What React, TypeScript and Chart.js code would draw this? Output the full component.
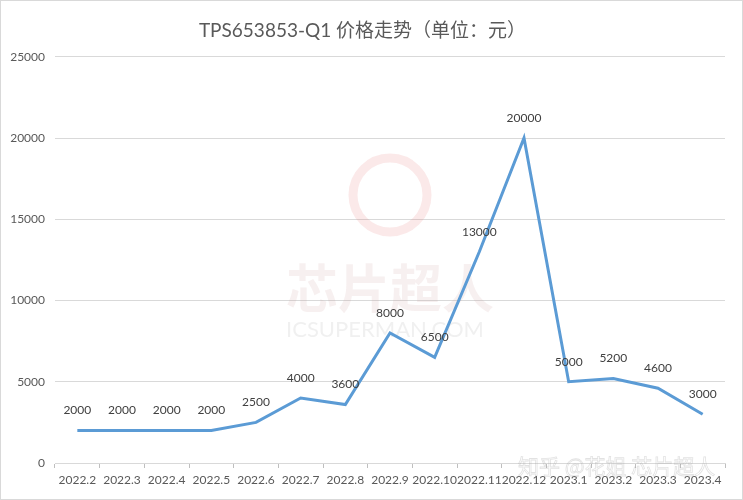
import React, { useEffect, useRef } from "react";
import { Chart, registerables } from "chart.js";

Chart.register(...registerables);

const TITLE = "TPS653853-Q1 价格走势（单位：元）";
const categories = [
  "2022.2", "2022.3", "2022.4", "2022.5", "2022.6", "2022.7", "2022.8", "2022.9",
  "2022.10", "2022.11", "2022.12", "2023.1", "2023.2", "2023.3", "2023.4",
];
const prices = [2000, 2000, 2000, 2000, 2500, 4000, 3600, 8000, 6500, 13000, 20000, 5000, 5200, 4600, 3000];
const yTicks = [0, 5000, 10000, 15000, 20000, 25000];

const FONT = "Lato, 'Noto Sans CJK SC', sans-serif";

const decorPlugin = {
  id: "decor",
  beforeDraw(chart: any) {
    const { ctx, width, height } = chart;
    ctx.save();
    ctx.fillStyle = "#ffffff";
    ctx.fillRect(0, 0, width, height);
    ctx.restore();
  },
  afterDraw(chart: any) {
    const { ctx, width, height } = chart;
    ctx.save();
    ctx.strokeStyle = "#d9d9d9";
    ctx.lineWidth = 1;
    ctx.strokeRect(0.5, 0.5, width - 1, height - 1);
    ctx.restore();
  },
  beforeDatasetsDraw(chart: any) {
    const { ctx } = chart;
    ctx.save();
    // faint watermark
    ctx.strokeStyle = "rgba(230,120,120,0.16)";
    ctx.lineWidth = 9;
    ctx.beginPath();
    ctx.arc(390, 195, 37, 0, Math.PI * 2);
    ctx.stroke();
    ctx.fillStyle = "rgba(200,150,150,0.14)";
    ctx.font = "bold 52px 'Noto Sans CJK SC', sans-serif";
    ctx.textAlign = "center";
    ctx.textBaseline = "middle";
    ctx.fillText("芯片超人", 390, 288);
    ctx.fillStyle = "rgba(180,180,180,0.2)";
    ctx.font = "22px " + FONT;
    ctx.fillText("ICSUPERMAN.COM", 385, 330);
    ctx.strokeStyle = "rgba(160,160,160,0.3)";
    ctx.lineWidth = 0.8;
    ctx.font = "21px 'Noto Sans CJK SC', sans-serif";
    ctx.textAlign = "left";
    ctx.strokeText("知乎 @花姐 芯片超人", 518, 466);
    ctx.restore();
  },
  afterDatasetsDraw(chart: any) {
    const { ctx } = chart;
    const meta = chart.getDatasetMeta(0);
    const data = chart.data.datasets[0].data as number[];
    ctx.save();
    ctx.fillStyle = "#404040";
    ctx.font = "12px " + FONT;
    ctx.textAlign = "center";
    ctx.textBaseline = "middle";
    meta.data.forEach((pt: any, i: number) => {
      ctx.fillText(String(data[i]), pt.x, pt.y - 20);
    });
    ctx.restore();
  },
};

export default function App() {
  const ref = useRef<HTMLCanvasElement>(null);
  useEffect(() => {
    document.body.style.margin = "0";
    const chart = new Chart(ref.current!, {
      type: "line",
      data: {
        labels: categories,
        datasets: [
          {
            data: prices,
            borderColor: "#5b9bd5",
            borderWidth: 3,
            pointRadius: 0,
            tension: 0,
            fill: false,
          },
        ],
      },
      plugins: [decorPlugin],
      options: {
        animation: false,
        responsive: false,
        layout: { padding: { left: 0, right: 18, top: 0, bottom: 0 } },
        plugins: {
          legend: { display: false },
          tooltip: { enabled: false },
          title: {
            display: true,
            text: TITLE,
            color: "#595959",
            font: { family: FONT, size: 19, weight: "normal" },
            padding: { top: 19, bottom: 15 },
          },
        },
        scales: {
          x: {
            offset: true,
            grid: {
              offset: true,
              drawOnChartArea: false,
              drawTicks: true,
              tickLength: 5,
              color: "#bfbfbf",
            },
            border: { display: true, color: "#d9d9d9" },
            ticks: {
              autoSkip: false,
              maxRotation: 0,
              minRotation: 0,
              color: "#595959",
              font: { family: FONT, size: 12 },
              padding: 5,
            },
            afterFit(scale: any) {
              scale.height = 37;
            },
          },
          y: {
            min: 0,
            max: 25000,
            afterBuildTicks(scale: any) {
              scale.ticks = yTicks.map((v) => ({ value: v }));
            },
            grid: { color: "#d9d9d9", drawTicks: false, lineWidth: 1 },
            border: { display: false },
            ticks: {
              color: "#595959",
              font: { family: FONT, size: 12 },
              padding: 10,
              callback: (v: any) => String(v),
            },
            afterFit(scale: any) {
              scale.width = 55;
            },
          },
        },
      },
    });
    return () => chart.destroy();
  }, []);
  return (
    <div style={{ width: 743, height: 500 }}>
      <canvas ref={ref} width={743} height={500} style={{ display: "block" }} />
    </div>
  );
}
